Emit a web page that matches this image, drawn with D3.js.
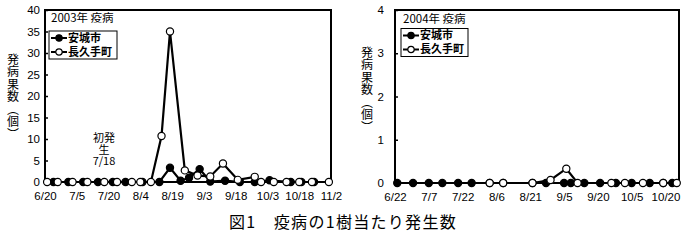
<!DOCTYPE html>
<html>
<head>
<meta charset="utf-8">
<script src="https://cdn.jsdelivr.net/npm/d3@7"></script>
<style>
body { margin: 0; background: #fff; }
svg { display: block; }
text { font-family: "Liberation Sans", Arial, sans-serif; fill: #000; }
.jp { font-family: "Noto Sans CJK JP", sans-serif; }
</style>
</head>
<body>
<svg class="chart"></svg>
<script>
// 2003
var xTicks2003 = ["6/20", "7/5", "7/20", "8/4", "8/19", "9/3", "9/18", "10/3", "10/18", "11/2"];
var yTicks2003 = [0, 5, 10, 15, 20, 25, 30, 35, 40];
var anjoDates2003 = ["6/24", "7/1", "7/8", "7/15", "7/22", "7/28", "8/5", "8/13", "8/18", "8/23", "8/27", "9/1", "9/6", "9/13", "9/20", "9/27", "10/4", "10/14", "10/19", "10/25"];
var anjoValues2003 = [0, 0, 0, 0, 0, 0, 0, 0, 3.3, 0.3, 1.0, 3.0, 0.1, 0.3, 0, 0, 0.4, 0, 0, 0];
var nagaDates2003 = ["6/21", "6/26", "7/3", "7/10", "7/18", "7/24", "7/31", "8/4", "8/9", "8/14", "8/18", "8/25", "8/31", "9/6", "9/12", "9/19", "9/27", "9/30", "10/6", "10/12", "10/18", "10/24", "11/1"];
var nagaValues2003 = [0, 0, 0, 0, 0, 0, 0, 0, 0, 10.7, 35, 2.7, 1.5, 1.3, 4.3, 0.5, 1.2, 0, 0, 0, 0, 0, 0];

// 2004
var xTicks2004 = ["6/22", "7/7", "7/22", "8/6", "8/21", "9/5", "9/20", "10/5", "10/20"];
var yTicks2004 = [0, 1, 2, 3, 4];
var anjoDates2004 = ["6/23", "6/30", "7/7", "7/13", "7/20", "7/26", "8/3", "8/9", "8/22", "8/28", "9/5", "9/8", "9/14", "9/21", "9/28", "10/5", "10/13", "10/19", "10/23"];
var anjoValues2004 = [0, 0, 0, 0, 0, 0, 0, 0, 0, 0, 0, 0, 0, 0, 0, 0, 0, 0, 0];
var nagaDates2004 = ["8/3", "8/9", "8/22", "8/30", "9/6", "9/11", "9/26", "10/2", "10/10", "10/19", "10/25"];
var nagaValues2004 = [0, 0, 0, 0.07, 0.33, 0, 0, 0, 0, 0, 0];

var seriesNames = ["安城市", "長久手町"];
var yTitle = "発病果数（個）";

var svg = d3.select(".chart")
    .attr("width", 688)
    .attr("height", 240);

function md(year, s) {
  var p = s.split("/");
  return new Date(year, +p[0] - 1, +p[1]);
}

function pairs(year, dates, values) {
  return dates.map(function(d, i) { return {date: md(year, d), value: values[i]}; });
}

var panels = [
  {year: 2003, title: "2003年 疫病", left: 45, right: 331, top: 10, bottom: 182,
   start: "6/20", end: "11/2", ymax: 40, xTicks: xTicks2003, yTicks: yTicks2003, ypad: 5,
   anjo: pairs(2003, anjoDates2003, anjoValues2003), naga: pairs(2003, nagaDates2003, nagaValues2003),
   titleX: 51, titleY: 22, legend: {x: 49, y: 31, w: 68, h: 28, row1: 38, row2: 52},
   yTitleX: 13, yTitleY: 53},
  {year: 2004, title: "2004年 疫病", left: 395, right: 679, top: 10, bottom: 183,
   start: "6/22", end: "10/26", ymax: 4, xTicks: xTicks2004, yTicks: yTicks2004, ypad: 11,
   anjo: pairs(2004, anjoDates2004, anjoValues2004), naga: pairs(2004, nagaDates2004, nagaValues2004),
   titleX: 403, titleY: 23, legend: {x: 401, y: 28.5, w: 67, h: 28, row1: 35.5, row2: 49.5},
   yTitleX: 367, yTitleY: 46}
];

panels.forEach(drawPanel);

// 初発生 annotation (2003)
var note = svg.append("text")
    .attr("class", "jp")
    .attr("text-anchor", "middle")
    .style("font-size", "11px");
note.append("tspan").attr("x", 104).attr("y", 142).text("初発");
note.append("tspan").attr("x", 104).attr("y", 153.5).text("生");
note.append("tspan").attr("x", 104).attr("y", 165).text("7/18");

svg.append("text")
    .attr("class", "jp")
    .attr("x", 343)
    .attr("y", 228)
    .attr("text-anchor", "middle")
    .style("font-size", "16px")
    .style("letter-spacing", "1.3px")
    .text("図1　疫病の1樹当たり発生数");

function drawPanel(p) {
  var x = d3.scaleTime()
      .domain([md(p.year, p.start), md(p.year, p.end)])
      .range([p.left, p.right]);
  var y = d3.scaleLinear()
      .domain([0, p.ymax])
      .range([p.bottom, p.top]);

  var g = svg.append("g");

  var yAxis = d3.axisLeft(y)
      .tickValues(p.yTicks)
      .tickFormat(d3.format("d"))
      .tickSizeInner(-3)
      .tickSizeOuter(0)
      .tickPadding(p.ypad);
  g.append("g")
      .attr("transform", "translate(" + p.left + ",0)")
      .call(yAxis)
      .call(function(a) {
        a.select(".domain").remove();
        a.selectAll("line").attr("stroke", "#000").attr("stroke-width", 1.5);
        a.selectAll("text").style("font-size", "11.5px").attr("font-family", null);
      });

  var xAxis = d3.axisBottom(x)
      .tickValues(p.xTicks.map(function(t) { return md(p.year, t); }))
      .tickFormat(function(d, i) { return p.xTicks[i]; })
      .tickSize(0)
      .tickPadding(10);
  g.append("g")
      .attr("transform", "translate(0," + p.bottom + ")")
      .call(xAxis)
      .call(function(a) {
        a.select(".domain").remove();
        a.selectAll("text").style("font-size", "11.5px").attr("font-family", null);
      });

  g.append("rect")
      .attr("x", p.left)
      .attr("y", p.top)
      .attr("width", p.right - p.left)
      .attr("height", p.bottom - p.top)
      .attr("fill", "none")
      .attr("stroke", "#000")
      .attr("stroke-width", 2);

  var line = d3.line()
      .x(function(d) { return x(d.date); })
      .y(function(d) { return y(d.value); });

  [{data: p.anjo, fill: "#000"}, {data: p.naga, fill: "#fff"}].forEach(function(s) {
    g.append("path")
        .datum(s.data)
        .attr("d", line)
        .attr("fill", "none")
        .attr("stroke", "#000")
        .attr("stroke-width", 2.2);
    g.selectAll(null)
        .data(s.data)
        .enter().append("circle")
        .attr("cx", function(d) { return x(d.date); })
        .attr("cy", function(d) { return y(d.value); })
        .attr("r", 3.6)
        .attr("fill", s.fill)
        .attr("stroke", "#000")
        .attr("stroke-width", 1.2);
  });

  g.append("text")
      .attr("class", "jp")
      .attr("x", p.titleX)
      .attr("y", p.titleY)
      .style("font-size", "11.5px")
      .text(p.title);

  var L = p.legend;
  g.append("rect")
      .attr("x", L.x)
      .attr("y", L.y)
      .attr("width", L.w)
      .attr("height", L.h)
      .attr("fill", "#fff")
      .attr("stroke", "#000")
      .attr("stroke-width", 1);

  var legend = g.selectAll(".legend")
      .data(seriesNames)
      .enter().append("g")
      .attr("class", "legend")
      .attr("transform", function(d, i) { return "translate(" + L.x + "," + (i ? L.row2 : L.row1) + ")"; });

  legend.append("line")
      .attr("x1", 2)
      .attr("x2", 18)
      .attr("stroke", "#000")
      .attr("stroke-width", 2);
  legend.append("circle")
      .attr("cx", 10)
      .attr("r", 3.2)
      .attr("fill", function(d, i) { return i ? "#fff" : "#000"; })
      .attr("stroke", "#000")
      .attr("stroke-width", 1.2);
  legend.append("text")
      .attr("class", "jp")
      .attr("x", 19)
      .attr("dy", "0.36em")
      .style("font-size", "11px")
      .style("font-weight", "bold")
      .text(function(d) { return d; });

  g.append("text")
      .attr("class", "jp")
      .attr("x", p.yTitleX)
      .attr("y", p.yTitleY)
      .style("writing-mode", "vertical-rl")
      .style("font-size", "12px")
      .style("letter-spacing", "0.5px")
      .text(yTitle);
}
</script>
</body>
</html>
